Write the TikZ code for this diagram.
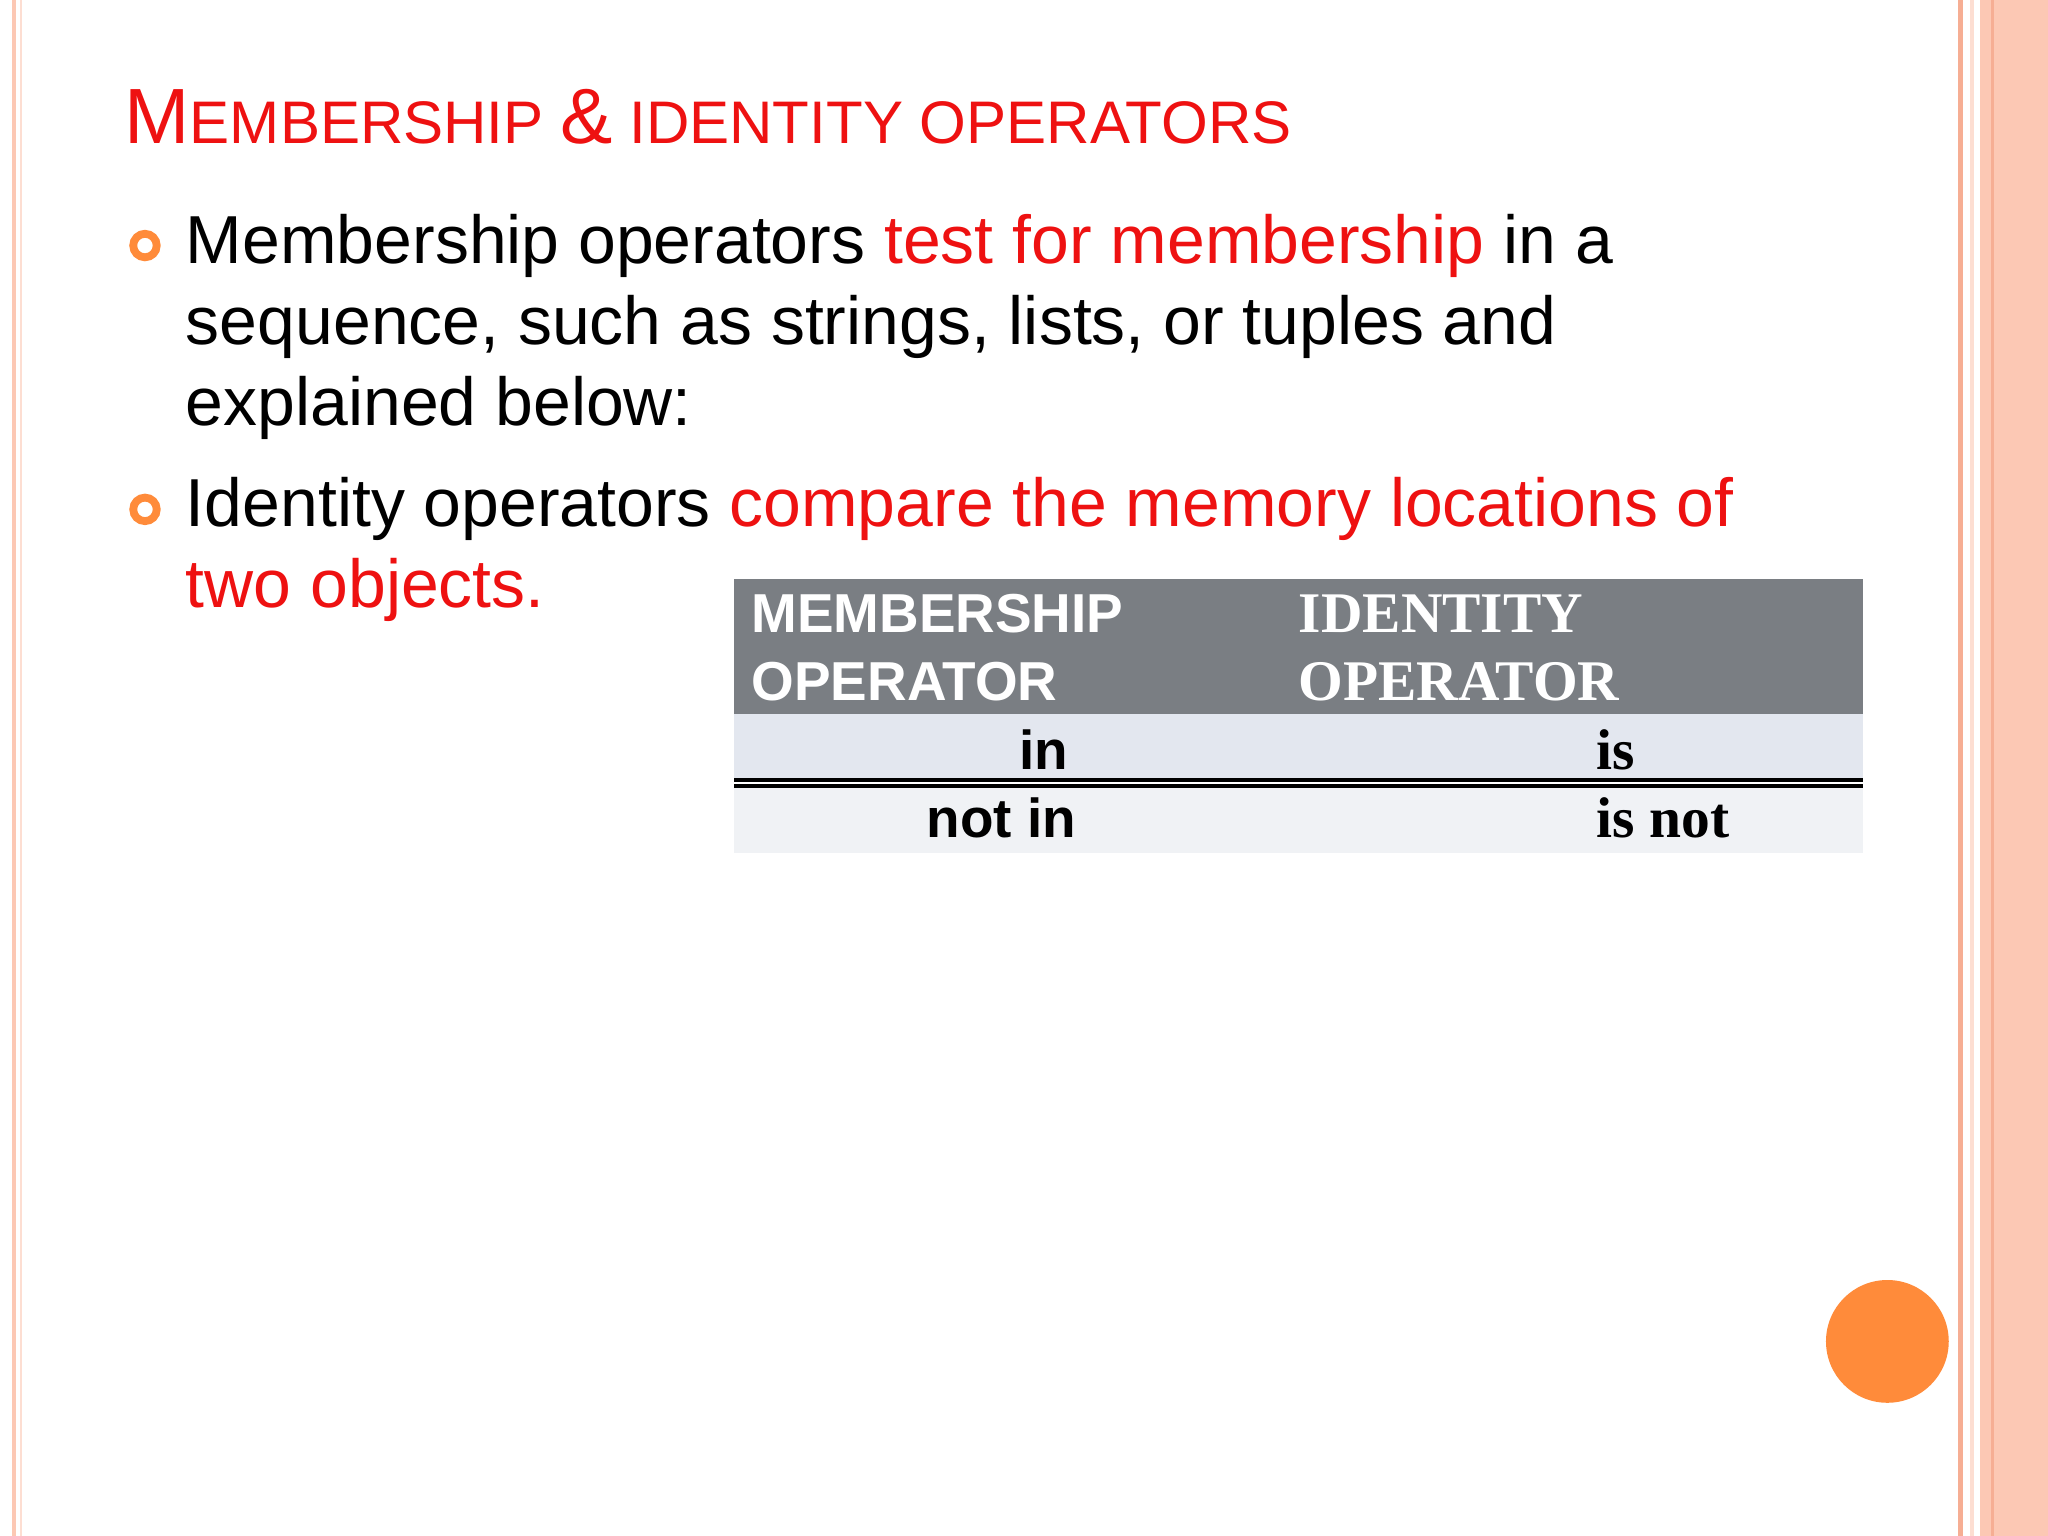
\documentclass[tikz,border=0pt]{standalone}
\usepackage{fontspec}
\setmainfont{Liberation Sans}
\newfontfamily\serifb{Liberation Serif}
\begin{document}
\begin{tikzpicture}[x=0.5pt,y=-0.5pt,
  body/.style={anchor=base west,inner sep=0,font=\fontsize{26}{31}\selectfont},
  th/.style={anchor=base west,inner sep=0,text=white,font=\fontsize{21}{26}\selectfont\bfseries},
  td/.style={anchor=base west,inner sep=0,font=\fontsize{21}{26}\selectfont\bfseries}]
\definecolor{tred}{HTML}{EE1111}
\definecolor{borange}{HTML}{FF8B3A}
\definecolor{salmon}{HTML}{FCC8B4}
\definecolor{salmond}{HTML}{F6AE94}
\definecolor{thead}{RGB}{122,126,131}
\definecolor{rowa}{RGB}{227,231,239}
\definecolor{rowb}{RGB}{240,242,245}
\useasboundingbox (0,0) rectangle (1568,1176);
\fill[white] (0,0) rectangle (1568,1176);
% borders
\fill[salmon] (9,0) rectangle (12,1176);
\fill[salmon!60] (15,0) rectangle (17,1176);
\fill[salmond] (1499,0) rectangle (1503,1176);
\fill[salmon!60] (1508,0) rectangle (1511,1176);
\fill[salmon] (1516,0) rectangle (1568,1176);
\fill[salmond] (1524,0) rectangle (1527,1176);
% title
\node[anchor=base west,inner sep=0,text=tred] (title) at (95,110)
 {\fontsize{30}{36}\selectfont M\fontsize{23}{28}\selectfont EMBERSHIP \fontsize{30}{36}\selectfont\&\fontsize{23}{28}\selectfont{} IDENTITY OPERATORS};
% bullets
\draw[borange,line width=3pt] (111,188) circle (9);
\draw[borange,line width=3pt] (111,390) circle (9);
\node[body] (l1) at (142,202) {Membership operators \textcolor{tred}{test for membership} in a};
\node[body] (l2) at (142,264) {sequence, such as strings, lists, or tuples and};
\node[body] (l3) at (142,326) {explained below:};
\node[body] (l4) at (142,403) {Identity operators \textcolor{tred}{compare the memory locations of}};
\node[body,text=tred] (l5) at (142,465) {two objects.};
% table
\fill[thead] (562,443) rectangle (1426,547);
\fill[rowa] (562,547) rectangle (1426,597);
\fill[rowb] (562,603) rectangle (1426,653);
\draw[line width=1.5pt] (562,597) -- (1426,597);
\draw[line width=1.5pt] (562,602) -- (1426,602);
\node[th] (h1) at (575,484) {MEMBERSHIP};
\node[th] (h2) at (575,536) {OPERATOR};
\node[th,font=\fontsize{22}{26}\selectfont\serifb\bfseries] (h3) at (994,484) {IDENTITY};
\node[th,font=\fontsize{22}{26}\selectfont\serifb\bfseries] (h4) at (994,536) {OPERATOR};
\node[td] (c1) at (780,589) {in};
\node[td] (c2) at (709,641) {not in};
\node[td,font=\fontsize{22}{26}\selectfont\serifb\bfseries] (c3) at (1222,589) {is};
\node[td,font=\fontsize{22}{26}\selectfont\serifb\bfseries] (c4) at (1222,641) {is not};
% circle
\fill[borange] (1445,1027) circle (47);
\end{tikzpicture}
\end{document}
